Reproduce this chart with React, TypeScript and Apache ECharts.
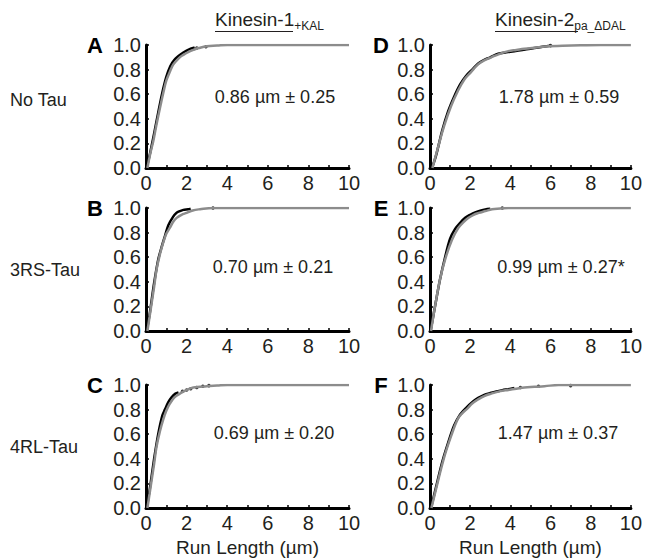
import React, { useEffect, useRef } from "react";
import * as echarts from "echarts";

// Panel A: Kinesin-1 +KAL, No Tau
const aFitX = [0.07, 0.2, 0.36, 0.5, 0.69, 0.85, 1.0, 1.17, 1.34, 1.6, 1.84, 2.1, 2.33, 2.6, 3.0, 3.5, 4, 5, 6, 8, 10];
const aFitY = [0, 0.11, 0.22, 0.34, 0.49, 0.61, 0.71, 0.78, 0.84, 0.89, 0.92, 0.945, 0.96, 0.975, 0.99, 0.995, 1, 1, 1, 1, 1];
const aDataX = [0.03, 0.2, 0.4, 0.6, 0.8, 1.0, 1.2, 1.4, 1.6, 1.8, 2.0, 2.2, 2.4];
const aDataY = [0, 0.12, 0.28, 0.45, 0.61, 0.74, 0.83, 0.88, 0.91, 0.935, 0.955, 0.97, 0.98];
const aDotX = [2.5, 2.95];
const aDotY = [0.975, 0.985];

// Panel B: Kinesin-1 +KAL, 3RS-Tau
const bFitX = [0.07, 0.18, 0.28, 0.4, 0.52, 0.68, 0.85, 1.0, 1.18, 1.35, 1.51, 1.75, 2.0, 2.3, 2.66, 3.3, 4, 5, 10];
const bFitY = [0, 0.12, 0.23, 0.36, 0.5, 0.62, 0.72, 0.79, 0.84, 0.89, 0.92, 0.945, 0.96, 0.98, 0.99, 1, 1, 1, 1];
const bDataX = [0.04, 0.2, 0.4, 0.6, 0.8, 0.93, 1.1, 1.34, 1.5, 1.6, 1.84, 2.08, 2.2];
const bDataY = [0, 0.16, 0.39, 0.58, 0.7, 0.77, 0.86, 0.93, 0.96, 0.97, 0.985, 0.99, 0.995];
const bDotX = [3.3];
const bDotY = [1.0];

// Panel C: Kinesin-1 +KAL, 4RL-Tau
const cFitX = [0.07, 0.18, 0.28, 0.4, 0.52, 0.68, 0.85, 1.0, 1.18, 1.4, 1.67, 2.0, 2.33, 2.66, 3.0, 3.5, 4, 5, 10];
const cFitY = [0, 0.12, 0.23, 0.36, 0.5, 0.62, 0.72, 0.79, 0.85, 0.9, 0.93, 0.96, 0.98, 0.985, 0.99, 0.995, 1, 1, 1];
const cDataX = [0.04, 0.2, 0.4, 0.6, 0.8, 0.93, 1.1, 1.26, 1.45, 1.6];
const cDataY = [0, 0.17, 0.4, 0.6, 0.75, 0.8, 0.86, 0.9, 0.93, 0.94];
const cDotX = [1.8, 2.0, 2.2, 2.5, 2.8, 3.1];
const cDotY = [0.95, 0.96, 0.97, 0.98, 0.99, 0.995];

// Panel D: Kinesin-2 pa_ΔDAL, No Tau
const dFitX = [0.12, 0.37, 0.7, 1.04, 1.37, 1.71, 2.04, 2.38, 2.7, 3.05, 3.5, 3.9, 4.3, 4.7, 5.3, 5.9, 6.6, 7.5, 8.5, 10];
const dFitY = [0, 0.15, 0.34, 0.5, 0.62, 0.72, 0.78, 0.84, 0.875, 0.9, 0.93, 0.95, 0.96, 0.97, 0.98, 0.99, 0.993, 0.997, 1, 1];
const dDataX = [0.1, 0.3, 0.6, 0.9, 1.2, 1.5, 1.8, 2.1, 2.4, 2.7, 3.0, 3.4, 3.8, 4.2, 4.6, 5.0, 5.4, 5.8, 6.0];
const dDataY = [0, 0.1, 0.3, 0.46, 0.58, 0.68, 0.75, 0.8, 0.85, 0.88, 0.9, 0.93, 0.94, 0.95, 0.96, 0.97, 0.98, 0.99, 0.995];
const dDotX = [6.0];
const dDotY = [0.995];

// Panel E: Kinesin-2 pa_ΔDAL, 3RS-Tau
const eFitX = [0.05, 0.25, 0.5, 0.75, 1.09, 1.42, 1.67, 1.92, 2.17, 2.42, 2.75, 3.09, 3.5, 3.9, 5, 10];
const eFitY = [0, 0.2, 0.42, 0.58, 0.74, 0.84, 0.885, 0.92, 0.945, 0.96, 0.975, 0.99, 0.995, 1, 1, 1];
const eDataX = [0.03, 0.25, 0.5, 0.75, 1.0, 1.25, 1.5, 1.75, 2.0, 2.25, 2.5, 2.75, 3.0];
const eDataY = [0, 0.2, 0.42, 0.6, 0.75, 0.83, 0.88, 0.92, 0.945, 0.965, 0.978, 0.988, 0.993];
const eDotX = [3.6];
const eDotY = [1.0];

// Panel F: Kinesin-2 pa_ΔDAL, 4RL-Tau
const fFitX = [0.07, 0.37, 0.7, 1.04, 1.37, 1.6, 1.87, 2.1, 2.37, 2.7, 3.05, 3.5, 3.9, 4.3, 4.7, 5.2, 5.7, 6.4, 7.5, 10];
const fFitY = [0, 0.2, 0.41, 0.58, 0.72, 0.77, 0.81, 0.85, 0.88, 0.91, 0.93, 0.95, 0.96, 0.97, 0.98, 0.985, 0.99, 1, 1, 1];
const fDataX = [0.05, 0.3, 0.6, 0.9, 1.2, 1.5, 1.8, 2.1, 2.4, 2.7, 3.0, 3.3, 3.6, 3.9, 4.2];
const fDataY = [0, 0.17, 0.37, 0.53, 0.67, 0.76, 0.815, 0.86, 0.895, 0.92, 0.935, 0.948, 0.958, 0.966, 0.975];
const fDotX = [4.5, 5.4, 7.0];
const fDotY = [0.98, 0.99, 0.995];

const xTicks = [0, 2, 4, 6, 8, 10];
const yTicks = [0, 0.2, 0.4, 0.6, 0.8, 1.0];

const panelLetters = ["A", "B", "C", "D", "E", "F"];
const rowLabels = ["No Tau", "3RS-Tau", "4RL-Tau"];
const annotations = ["0.86 µm ± 0.25", "0.70 µm ± 0.21", "0.69 µm ± 0.20", "1.78 µm ± 0.59", "0.99 µm ± 0.27*", "1.47 µm ± 0.37"];
const xAxisTitle = "Run Length (µm)";

const FONT = "Liberation Sans, Arial, Helvetica, sans-serif";
const TXT = "#231f20";

const zip = (xs: number[], ys: number[]) => xs.map((x, i) => [x, ys[i]]);

const panels = [
  { fx: aFitX, fy: aFitY, dx: aDataX, dy: aDataY, px: aDotX, py: aDotY },
  { fx: bFitX, fy: bFitY, dx: bDataX, dy: bDataY, px: bDotX, py: bDotY },
  { fx: cFitX, fy: cFitY, dx: cDataX, dy: cDataY, px: cDotX, py: cDotY },
  { fx: dFitX, fy: dFitY, dx: dDataX, dy: dDataY, px: dDotX, py: dDotY },
  { fx: eFitX, fy: eFitY, dx: eDataX, dy: eDataY, px: eDotX, py: eDotY },
  { fx: fFitX, fy: fFitY, dx: fDataX, dy: fDataY, px: fDotX, py: fDotY },
];

export default function App() {
  const ref = useRef<HTMLDivElement>(null);
  useEffect(() => {
    if (!ref.current) return;
    const chart = echarts.init(ref.current, null, { renderer: "svg" });
    const colLeft = [146, 430];
    const colWidth = [203, 202];
    const rowTop = [45, 208, 385];
    const gridH = 123;

    const grids: any[] = [];
    const xAxes: any[] = [];
    const yAxes: any[] = [];
    const series: any[] = [];
    const graphics: any[] = [];
    const annPos = [
      [275, 97], [273, 267], [274, 433],
      [559, 97], [561, 267], [558, 433],
    ];

    panels.forEach((p, i) => {
      const col = Math.floor(i / 3);
      const row = i % 3;
      grids.push({ left: colLeft[col], top: rowTop[row], width: colWidth[col], height: gridH });
      const axisLine = { show: true, onZero: false, lineStyle: { color: "#000", width: 3 } };
      xAxes.push({
        gridIndex: i, type: "value", min: 0, max: 10, interval: 2,
        axisLine, axisTick: { show: true, length: 3, inside: true, lineStyle: { color: "#000", width: 1.5 } },
        minorTick: { show: true, splitNumber: 2, length: 3, lineStyle: { color: "#000", width: 1.5 } },
        splitLine: { show: false },
        axisLabel: { fontSize: 20, color: TXT, fontFamily: FONT, margin: 5, formatter: (v: number) => (xTicks.includes(v) ? String(v) : "") },
        name: row === 2 ? xAxisTitle : "",
        nameLocation: "middle", nameGap: 30,
        nameTextStyle: { fontSize: 19, color: TXT, fontFamily: FONT },
      });
      yAxes.push({
        gridIndex: i, type: "value", min: 0, max: 1, interval: 0.2,
        axisLine, axisTick: { show: true, length: 3, inside: true, lineStyle: { color: "#000", width: 1.5 } },
        splitLine: { show: false },
        axisLabel: { fontSize: 20, color: TXT, fontFamily: FONT, margin: 5, formatter: (v: number) => (yTicks.some((t) => Math.abs(t - v) < 1e-6) ? v.toFixed(1) : "") },
      });
      series.push({
        type: "line", xAxisIndex: i, yAxisIndex: i, data: zip(p.dx, p.dy),
        showSymbol: false, smooth: 0.3, lineStyle: { color: "#000", width: 2.5 }, z: 2,
      });
      series.push({
        type: "scatter", xAxisIndex: i, yAxisIndex: i, data: zip(p.px, p.py),
        symbolSize: 3.5, itemStyle: { color: "#000" }, z: 2,
      });
      series.push({
        type: "line", xAxisIndex: i, yAxisIndex: i, data: zip(p.fx, p.fy),
        showSymbol: false, smooth: 0.4, lineStyle: { color: "#8c8c8c", width: 2.5 }, z: 3,
      });
      graphics.push({
        type: "text", x: annPos[i][0], y: annPos[i][1],
        style: { text: annotations[i], fontSize: 18, fill: TXT, font: `18px ${FONT}`, align: "center", verticalAlign: "middle" },
      });
      graphics.push({
        type: "text", x: col === 0 ? 95 : 381, y: rowTop[row],
        style: { text: panelLetters[i], fill: "#000", font: `bold 22px ${FONT}`, align: "center", verticalAlign: "middle" },
      });
    });

    rowLabels.forEach((t, r) => {
      graphics.push({
        type: "text", x: 10, y: [100, 270, 447][r],
        style: { text: t, fill: TXT, font: `18px ${FONT}`, align: "left", verticalAlign: "middle" },
      });
    });

    // Column titles with subscripts and underline (underline under the main text only)
    graphics.push({
      type: "text", x: 215, y: 29,
      style: {
        text: "{m|Kinesin-1}{s|+KAL}", fill: TXT, verticalAlign: "bottom",
        rich: {
          m: { font: `19px ${FONT}`, fill: TXT, verticalAlign: "bottom" },
          s: { font: `12px ${FONT}`, fill: TXT, verticalAlign: "bottom", padding: [0, 0, -3, 0] },
        },
      },
    });
    graphics.push({ type: "line", shape: { x1: 215, y1: 31.5, x2: 293, y2: 31.5 }, style: { stroke: TXT, lineWidth: 1.2 } });
    graphics.push({
      type: "text", x: 495, y: 29,
      style: {
        text: "{m|Kinesin-2}{s|pa_ΔDAL}", fill: TXT, verticalAlign: "bottom",
        rich: {
          m: { font: `19px ${FONT}`, fill: TXT, verticalAlign: "bottom" },
          s: { font: `12px ${FONT}`, fill: TXT, verticalAlign: "bottom", padding: [0, 0, -3, 0] },
        },
      },
    });
    graphics.push({ type: "line", shape: { x1: 495, y1: 31.5, x2: 578, y2: 31.5 }, style: { stroke: TXT, lineWidth: 1.2 } });

    chart.setOption({
      animation: false,
      backgroundColor: "#fff",
      grid: grids,
      xAxis: xAxes,
      yAxis: yAxes,
      series,
      graphic: graphics,
    });
    return () => chart.dispose();
  }, []);
  return <div ref={ref} style={{ position: "fixed", left: 0, top: 0, width: 645, height: 559 }} />;
}
